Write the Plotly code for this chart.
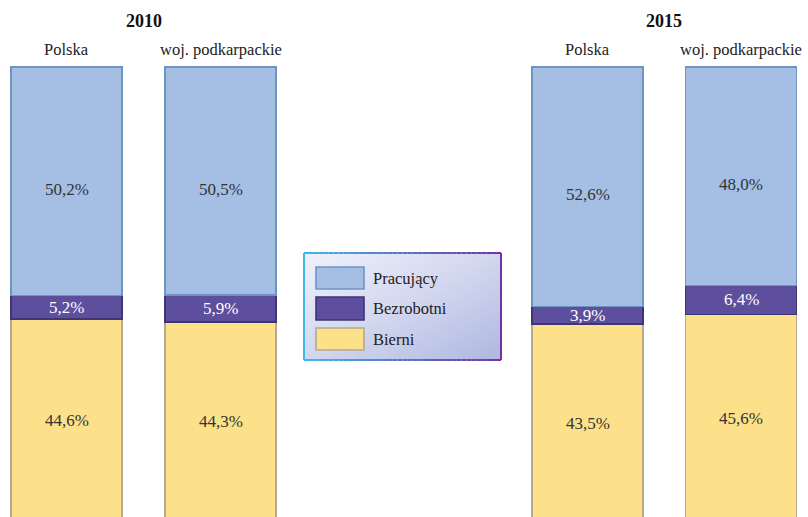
import plotly.graph_objects as go

# ---- data ----
years = ["2010", "2010", "2015", "2015"]
regions = ["Polska", "woj. podkarpackie", "Polska", "woj. podkarpackie"]
series_names = ["Pracujący", "Bezrobotni", "Bierni"]
pracujacy = [50.2, 50.5, 52.6, 48.0]
bezrobotni = [5.2, 5.9, 3.9, 6.4]
bierni = [44.6, 44.3, 43.5, 45.6]

# ---- style / layout ----
W, H = 808, 517
bar_x = [66.5, 220.5, 587.5, 741.0]
bar_w = 111
fill = {"Pracujący": "#A5BEE4", "Bezrobotni": "#5E4F9E", "Bierni": "#FDE08A"}
edge = {"Pracujący": "#6F94C2", "Bezrobotni": "#3E3576", "Bierni": "#B6A98F"}
txtcol = {"Pracujący": "#333333", "Bezrobotni": "#FFFFFF", "Bierni": "#333333"}
label_shift = {"Pracujący": -8, "Bezrobotni": 0, "Bierni": 0}
FONT = "Liberation Serif, Times New Roman, Times, serif"

def fmt(v):
    return f"{v:.1f}".replace(".", ",") + "%"

def px(x):
    return x / W

def py(y):
    return 1 - y / H

fig = go.Figure()
values = {"Pracujący": pracujacy, "Bezrobotni": bezrobotni, "Bierni": bierni}
stack_order = ["Bierni", "Bezrobotni", "Pracujący"]
for name in stack_order:
    vals = values[name]
    fig.add_trace(go.Bar(
        x=bar_x, y=vals, width=bar_w, name=name,
        marker=dict(color=fill[name], line=dict(color=edge[name], width=1.6)),
        hoverinfo="skip", showlegend=False,
    ))

# value labels at the (normalised) middle of each segment
annotations = []
totals = [sum(values[n][i] for n in stack_order) for i in range(len(bar_x))]
for i, xc in enumerate(bar_x):
    below = 0.0
    for name in stack_order:
        v = values[name][i]
        mid = (below + v / 2) / totals[i] * 100
        below += v
        annotations.append(dict(text=fmt(v), x=xc, y=mid, xref="x", yref="y",
                                xanchor="center", yanchor="middle", showarrow=False,
                                yshift=label_shift[name],
                                font=dict(family=FONT, size=17, color=txtcol[name])))

# scale: 0 -> pixel 522, 100 -> pixel 67
unit = (522 - 67) / 100.0
y_hi = 100 + 67 / unit
y_lo = (522 - H) / unit

# legend background gradient (heatmap on its own axes)
lx0, lx1, ly0, ly1 = 304, 501, 253, 360
fig.add_trace(go.Heatmap(
    z=[[1, 2], [0, 1]], x=[0, 1], y=[0, 1], zsmooth="best",
    colorscale=[[0, "#EFF1FB"], [0.5, "#D2D7EF"], [1, "#AEB7E0"]],
    showscale=False, hoverinfo="skip", xaxis="x2", yaxis="y2",
))

shapes = []
# gradient border
def lerp(c1, c2, t):
    a = [int(c1[i:i + 2], 16) for i in (1, 3, 5)]
    b = [int(c2[i:i + 2], 16) for i in (1, 3, 5)]
    return "#%02X%02X%02X" % tuple(round(a[k] + (b[k] - a[k]) * t) for k in range(3))

c_left, c_right = "#3FB7E8", "#7431A0"
n = 40
for i in range(n):
    xa = lx0 + (lx1 - lx0) * i / n
    xb = lx0 + (lx1 - lx0) * (i + 1) / n
    col = lerp(c_left, c_right, (i + 0.5) / n)
    for yy in (ly0, ly1):
        shapes.append(dict(type="line", xref="paper", yref="paper",
                           x0=px(xa), x1=px(xb), y0=py(yy), y1=py(yy),
                           line=dict(color=col, width=2), layer="above"))
shapes.append(dict(type="line", xref="paper", yref="paper", x0=px(lx0), x1=px(lx0),
                   y0=py(ly0), y1=py(ly1), line=dict(color=c_left, width=2), layer="above"))
shapes.append(dict(type="line", xref="paper", yref="paper", x0=px(lx1), x1=px(lx1),
                   y0=py(ly0), y1=py(ly1), line=dict(color=c_right, width=2), layer="above"))

sw_y = [(267, 289), (297, 320), (328, 350)]
for name, (ya, yb) in zip(series_names, sw_y):
    shapes.append(dict(type="rect", xref="paper", yref="paper",
                       x0=px(316), x1=px(364), y0=py(yb), y1=py(ya),
                       fillcolor=fill[name], line=dict(color=edge[name], width=1.6),
                       layer="above"))
    annotations.append(dict(text=name, xref="paper", yref="paper",
                            x=px(371), y=py((ya + yb) / 2), xanchor="left", yanchor="middle",
                            showarrow=False, font=dict(family=FONT, size=16.5, color="#222222")))

# year titles
for yr, cx in [("2010", (bar_x[0] + bar_x[1]) / 2), ("2015", (bar_x[2] + bar_x[3]) / 2)]:
    annotations.append(dict(text=f"<b>{yr}</b>", xref="x", yref="paper", x=cx, y=py(21),
                            xanchor="center", yanchor="middle", showarrow=False,
                            font=dict(family=FONT, size=18, color="#111111")))
# region labels
for reg, cx in zip(regions, bar_x):
    annotations.append(dict(text=reg, xref="x", yref="paper", x=cx, y=py(49),
                            xanchor="center", yanchor="middle", showarrow=False,
                            font=dict(family=FONT, size=16.5, color="#222222")))

fig.update_layout(
    width=W, height=H,
    margin=dict(l=0, r=0, t=0, b=0, pad=0),
    paper_bgcolor="white", plot_bgcolor="white",
    barmode="stack", barnorm="percent",
    xaxis=dict(range=[0, W], visible=False, fixedrange=True),
    yaxis=dict(range=[y_lo, y_hi], visible=False, fixedrange=True),
    xaxis2=dict(domain=[px(lx0), px(lx1)], range=[0, 1], visible=False, anchor="y2"),
    yaxis2=dict(domain=[py(ly1), py(ly0)], range=[0, 1], visible=False, anchor="x2"),
    shapes=shapes, annotations=annotations,
    showlegend=False,
)

fig.write_html("out.html", config={"displayModeBar": False},
               post_script="document.body.style.margin='0';document.body.style.padding='0';")
